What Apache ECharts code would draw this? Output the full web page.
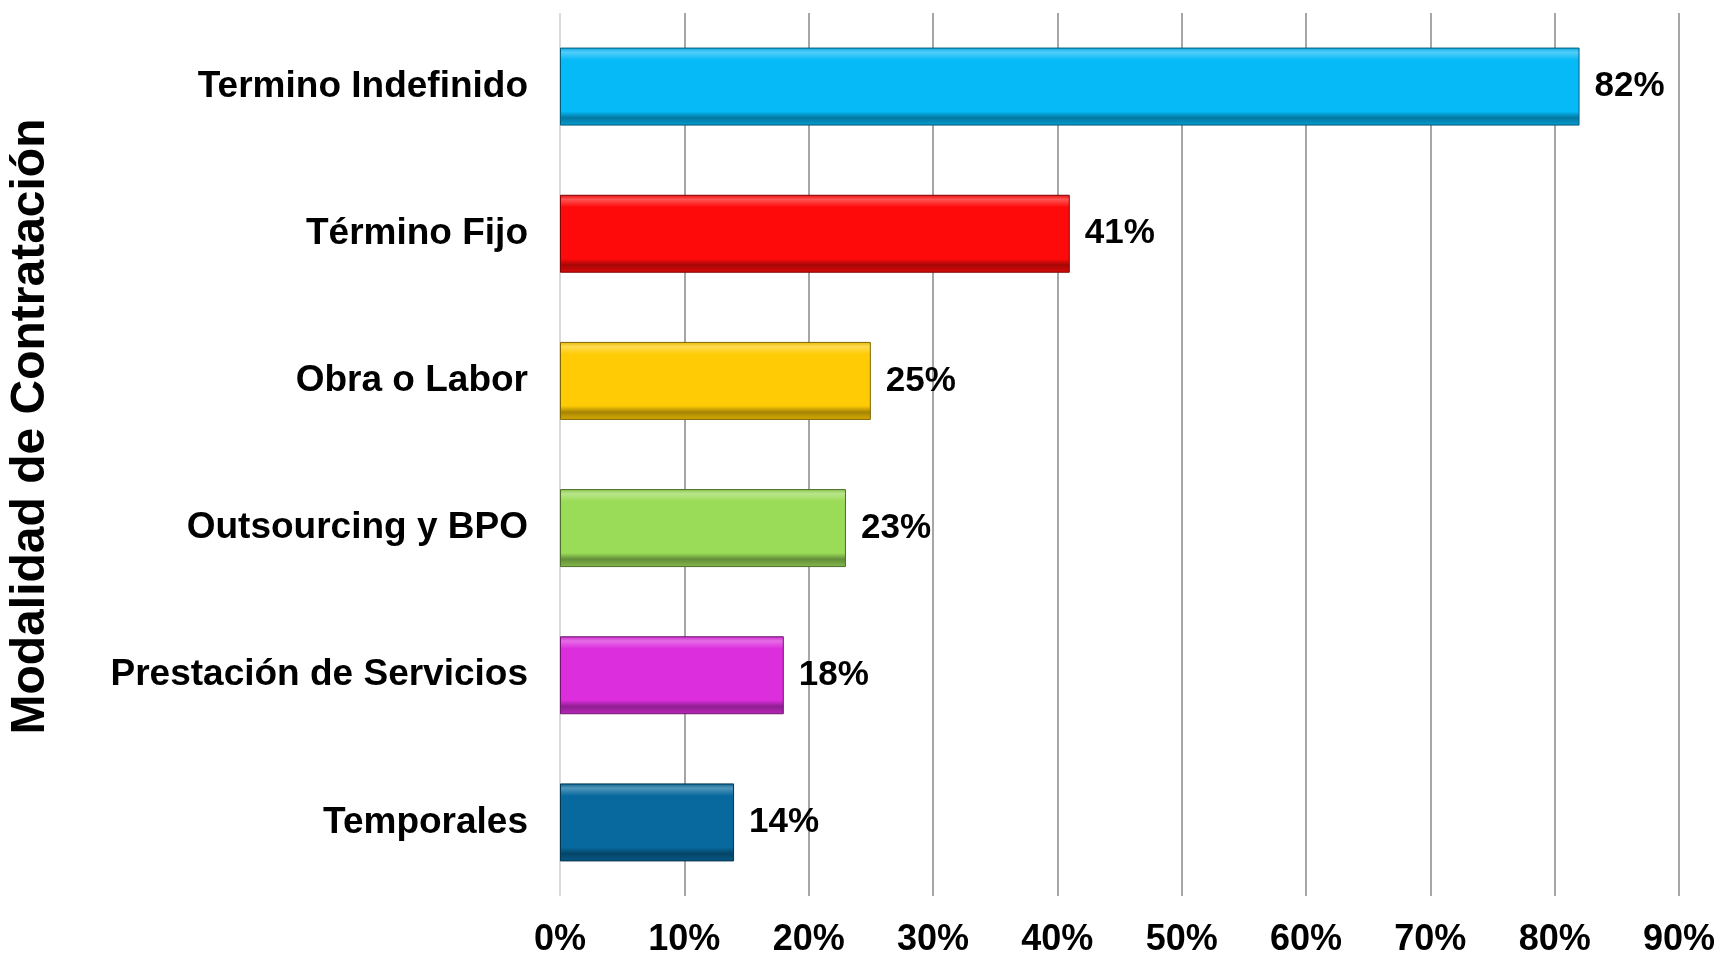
<!DOCTYPE html>
<html>
<head>
<meta charset="utf-8">
<script src="https://cdn.jsdelivr.net/npm/echarts@6/dist/echarts.min.js"></script>
<style>
  html, body { margin: 0; padding: 0; background: #fff; }
  #chart { width: 1719px; height: 956px; }
</style>
</head>
<body>
<div id="chart"></div>
<script>
  // datos
  const categories = ['Termino Indefinido', 'Término Fijo', 'Obra o Labor', 'Outsourcing y BPO', 'Prestación de Servicios', 'Temporales'];
  const values = [82, 41, 25, 23, 18, 14];
  const barColors = ['#06B9F7', '#FF0A0A', '#FFCB05', '#9ADB57', '#DC2EDD', '#07699E'];
  const tickLabels = ['0%', '10%', '20%', '30%', '40%', '50%', '60%', '70%', '80%', '90%'];

  function shade(hex, f) {
    const n = parseInt(hex.slice(1), 16);
    let r = (n >> 16) & 255, g = (n >> 8) & 255, b = n & 255;
    if (f > 0) {
      r = r + (255 - r) * f; g = g + (255 - g) * f; b = b + (255 - b) * f;
    } else {
      r = r * (1 + f); g = g * (1 + f); b = b * (1 + f);
    }
    return 'rgb(' + Math.round(r) + ',' + Math.round(g) + ',' + Math.round(b) + ')';
  }

  const barData = values.map((v, i) => ({
    value: v,
    itemStyle: {
      color: {
        type: 'linear', x: 0, y: 0, x2: 0, y2: 1,
        colorStops: [
          { offset: 0, color: shade(barColors[i], -0.1) },
          { offset: 0.06, color: shade(barColors[i], 0.3) },
          { offset: 0.16, color: barColors[i] },
          { offset: 0.82, color: barColors[i] },
          { offset: 0.9, color: shade(barColors[i], -0.35) },
          { offset: 1, color: shade(barColors[i], -0.15) }
        ]
      },
      borderColor: shade(barColors[i], -0.5),
      borderWidth: 1
    }
  }));

  const chart = echarts.init(document.getElementById('chart'));
  chart.setOption({
    animation: false,
    grid: { left: 560, right: 40, top: 13, bottom: 60, containLabel: false, outerBoundsMode: 'none' },
    xAxis: {
      type: 'value',
      min: 0,
      max: 90,
      interval: 10,
      axisLine: { show: false },
      axisTick: { show: false },
      axisLabel: {
        margin: 26,
        color: '#000',
        fontFamily: 'Liberation Sans, Arial',
        fontWeight: 'bold',
        fontSize: 36,
        formatter: (v) => tickLabels[Math.round(v / 10)]
      },
      splitLine: {
        lineStyle: {
          color: ['#d9d9d9', '#a6a6a6', '#a6a6a6', '#a6a6a6', '#a6a6a6', '#a6a6a6', '#a6a6a6', '#a6a6a6', '#a6a6a6', '#a6a6a6'],
          width: 2
        }
      }
    },
    yAxis: {
      type: 'category',
      inverse: true,
      data: categories,
      name: 'Modalidad de Contratación',
      nameLocation: 'middle',
      nameGap: 505,
      nameRotate: 90,
      nameTextStyle: {
        color: '#000',
        fontFamily: 'Liberation Sans, Arial',
        fontWeight: 'bold',
        fontSize: 48,
        padding: [0, 0, 0, 56]
      },
      axisLine: { show: false },
      axisTick: { show: false },
      axisLabel: {
        margin: 32,
        color: '#000',
        fontFamily: 'Liberation Sans, Arial',
        fontWeight: 'bold',
        fontSize: 37
      }
    },
    series: [{
      type: 'bar',
      data: barData,
      barWidth: '53%',
      label: {
        show: true,
        position: 'right',
        distance: 15,
        color: '#000',
        fontFamily: 'Liberation Sans, Arial',
        fontWeight: 'bold',
        fontSize: 35,
        formatter: (p) => p.value + '%'
      }
    }]
  });
</script>
</body>
</html>
